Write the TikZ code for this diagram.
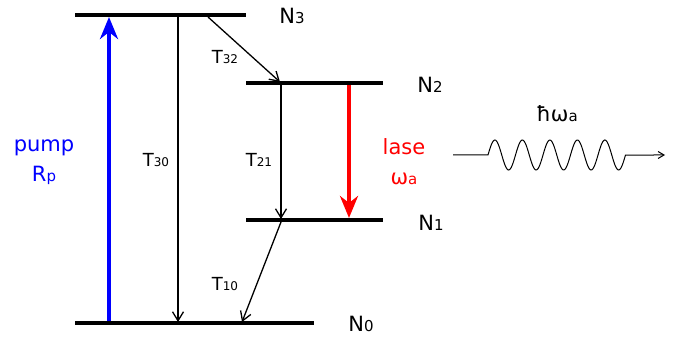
\documentclass[tikz,border=0pt]{standalone}
\usepackage{fontspec}
\setmainfont{DejaVu Sans}
\usetikzlibrary{arrows.meta,calc}
\definecolor{pumpblue}{HTML}{0000FF}
\definecolor{laserred}{HTML}{FF0000}
\newcommand{\ssub}[1]{{\fontsize{15}{15}\selectfont #1}}
\newcommand{\tsub}[1]{{\fontsize{12}{12}\selectfont #1}}

\begin{document}
\begin{tikzpicture}[x=1pt,y=-1pt,
		level/.style={line width=4pt},
		decay/.style={line width=1.3pt,-{Straight Barb[length=9pt,width=11pt]}},
		thick arrow/.style={line width=4pt,-{Stealth[length=22pt,width=18pt,inset=7pt]}},
		lbl/.style={font=\fontsize{21}{30}\selectfont,inner sep=0pt,align=center},
		tlbl/.style={font=\fontsize{18}{18}\selectfont,inner sep=0pt}]
		\useasboundingbox (0,0) rectangle (674,339);
		
		% energy levels
		\coordinate (n3a) at (75,15);  \coordinate (n3b) at (246,15);
		\coordinate (n2a) at (246,83); \coordinate (n2b) at (383,83);
		\coordinate (n1a) at (246,220); \coordinate (n1b) at (383,220);
		\coordinate (n0a) at (75,323); \coordinate (n0b) at (314,323);
		\draw[level] (n3a) -- (n3b);
		\draw[level] (n2a) -- (n2b);
		\draw[level] (n1a) -- (n1b);
		\draw[level] (n0a) -- (n0b);
		
		\node[lbl] (N3) at (292,16) {N\ssub{3}};
		\node[lbl] (N2) at (430,85) {N\ssub{2}};
		\node[lbl] (N1) at (431,223) {N\ssub{1}};
		\node[lbl] (N0) at (361,324) {N\ssub{0}};
		
		% pump
		\coordinate (pumpfoot) at (109,321);
		\coordinate (pumphead) at (109,17);
		\draw[thick arrow,pumpblue] (pumpfoot) -- (pumphead);
		\node[lbl,pumpblue] (pump) at (44,162) {pump\\R\ssub{p}};
		
		% decays
		\coordinate (t30a) at (178,17);  \coordinate (t30b) at (178,322);
		\coordinate (t32a) at (208,17);  \coordinate (t32b) at (280,82);
		\coordinate (t21a) at (281,85);  \coordinate (t21b) at (281,219);
		\coordinate (t10a) at (281,222); \coordinate (t10b) at (242,322);
		\draw[decay] (t30a) -- (t30b);
		\draw[decay] (t32a) -- (t32b);
		\draw[decay] (t21a) -- (t21b);
		\draw[decay] (t10a) -- (t10b);
		\node[tlbl] (T30) at (156,160) {T\tsub{30}};
		\node[tlbl] (T32) at (225,57) {T\tsub{32}};
		\node[tlbl] (T21) at (259,160) {T\tsub{21}};
		\node[tlbl] (T10) at (225,284) {T\tsub{10}};
		
		% laser transition
		\coordinate (lasetop) at (349,85);
		\coordinate (lasebot) at (349,218);
		\draw[thick arrow,laserred] (lasetop) -- (lasebot);
		\node[lbl,laserred] (lase) at (404,162) {lase\\ω\ssub{a}};
		
		% emitted photon
		\coordinate (wavein) at (453,155);
		\coordinate (waveout) at (665,155);
		\draw[line width=1pt,-{Straight Barb[length=6pt,width=7pt]}] (wavein) -- (488,155)
			-- plot[domain=488:625.5,samples=160,smooth] (\x,{155-15*sin(13.0909*(\x-488))})
			-- (waveout);
		\node[lbl] (photon) at (557,114) {ħω\ssub{a}};
	\end{tikzpicture}
\end{document}
